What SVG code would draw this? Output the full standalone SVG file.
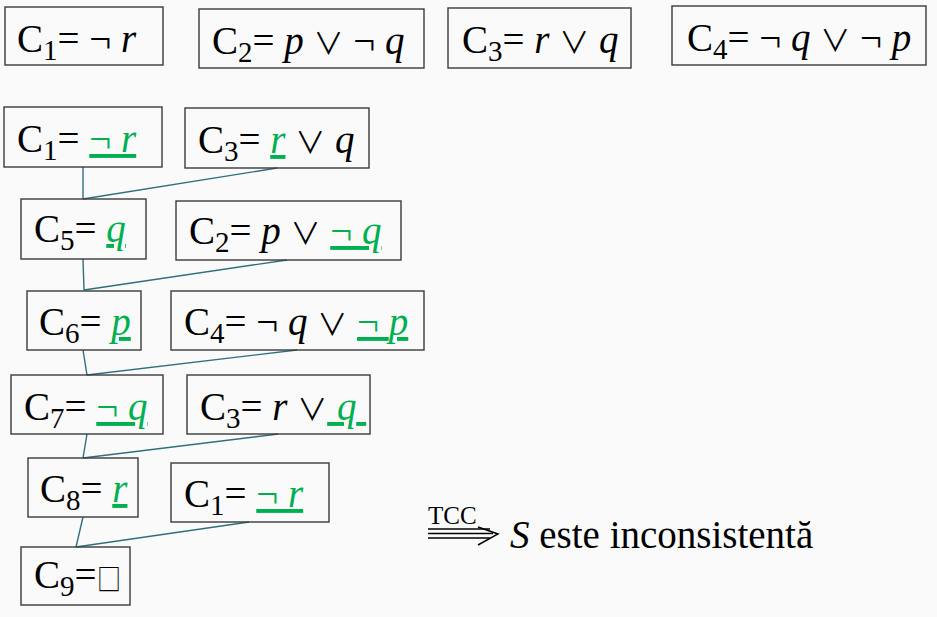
<svg xmlns="http://www.w3.org/2000/svg" width="937" height="617" viewBox="0 0 937 617">
<style>
.bg{fill:#fafafa}
.box{fill:none;stroke:#3a3a3a;stroke-width:1.4}
.t{font-family:"Liberation Serif","Times New Roman",serif;font-size:39px;fill:#000}
.sub{font-size:29px}
.i{font-style:italic}
.o{font-family:"Noto Sans CJK JP",sans-serif;font-size:30px;font-style:normal}
.g{fill:#00b050;text-decoration:underline}
.con line{stroke:#2f6f7e;stroke-width:1.4}
.arr{stroke:#000;stroke-width:1.5;fill:none}
</style>
<rect class="bg" x="0" y="0" width="937" height="617"/>

<g id="top-c1">
<rect class="box" x="5" y="7" width="158" height="58"/>
<text class="t" x="17" y="52">C<tspan class="sub" dy="8">1</tspan><tspan dy="-8">= ¬ </tspan><tspan class="i">r</tspan></text>
</g>
<g id="top-c2">
<rect class="box" x="199" y="9" width="225" height="59"/>
<text class="t" x="212" y="54">C<tspan class="sub" dy="8">2</tspan><tspan dy="-8">= </tspan><tspan class="i">p</tspan> <tspan class="o">∨</tspan> ¬ <tspan class="i">q</tspan></text>
</g>
<g id="top-c3">
<rect class="box" x="448" y="8" width="183" height="60"/>
<text class="t" x="462" y="53">C<tspan class="sub" dy="8">3</tspan><tspan dy="-8">= </tspan><tspan class="i">r</tspan> <tspan class="o">∨</tspan> <tspan class="i">q</tspan></text>
</g>
<g id="top-c4">
<rect class="box" x="672" y="6" width="254" height="59"/>
<text class="t" x="687" y="51">C<tspan class="sub" dy="8">4</tspan><tspan dy="-8">= ¬ </tspan><tspan class="i">q</tspan> <tspan class="o">∨</tspan> ¬ <tspan class="i">p</tspan></text>
</g>

<g id="connectors" class="con">
<line x1="83" y1="167" x2="83" y2="199"/>
<line x1="277" y1="168" x2="83" y2="199"/>
<line x1="83" y1="259" x2="84" y2="290"/>
<line x1="287" y1="260" x2="84" y2="290"/>
<line x1="83" y1="350" x2="87" y2="375"/>
<line x1="297" y1="350" x2="87" y2="375"/>
<line x1="87" y1="434" x2="83" y2="458"/>
<line x1="278" y1="434" x2="83" y2="458"/>
<line x1="83" y1="517" x2="76" y2="547"/>
<line x1="249" y1="522" x2="76" y2="547"/>
</g>

<g id="s-c1">
<rect class="box" x="4" y="107" width="158" height="60"/>
<text class="t" x="17" y="152">C<tspan class="sub" dy="8">1</tspan><tspan dy="-8">= </tspan><tspan class="g">¬ <tspan class="i">r</tspan></tspan></text>
</g>
<g id="s-c3a">
<rect class="box" x="185" y="108" width="184" height="60"/>
<text class="t" x="198" y="153">C<tspan class="sub" dy="8">3</tspan><tspan dy="-8">= </tspan><tspan class="g i">r</tspan> <tspan class="o">∨</tspan> <tspan class="i">q</tspan></text>
</g>
<g id="c5">
<rect class="box" x="21" y="199" width="125" height="60"/>
<text class="t" x="34" y="242">C<tspan class="sub" dy="8">5</tspan><tspan dy="-8">= </tspan><tspan class="g i">q</tspan></text>
</g>
<g id="s-c2">
<rect class="box" x="176" y="201" width="225" height="59"/>
<text class="t" x="189" y="244">C<tspan class="sub" dy="8">2</tspan><tspan dy="-8">= </tspan><tspan class="i">p</tspan> <tspan class="o">∨</tspan> <tspan class="g">¬ <tspan class="i">q</tspan></tspan></text>
</g>
<g id="c6">
<rect class="box" x="27" y="291" width="114" height="59"/>
<text class="t" x="39" y="335">C<tspan class="sub" dy="8">6</tspan><tspan dy="-8">= </tspan><tspan class="g i">p</tspan></text>
</g>
<g id="s-c4">
<rect class="box" x="171" y="291" width="253" height="59"/>
<text class="t" x="184" y="335">C<tspan class="sub" dy="8">4</tspan><tspan dy="-8">= ¬ </tspan><tspan class="i">q</tspan> <tspan class="o">∨</tspan> <tspan class="g">¬ <tspan class="i">p</tspan></tspan></text>
</g>
<g id="c7">
<rect class="box" x="11" y="375" width="152" height="59"/>
<text class="t" x="24" y="420">C<tspan class="sub" dy="8">7</tspan><tspan dy="-8">= </tspan><tspan class="g">¬ <tspan class="i">q</tspan></tspan></text>
</g>
<g id="s-c3b">
<rect class="box" x="187" y="375" width="183" height="59"/>
<text class="t" x="200" y="420">C<tspan class="sub" dy="8">3</tspan><tspan dy="-8">= </tspan><tspan class="i">r</tspan> <tspan class="o">∨</tspan><tspan class="g" xml:space="preserve"> <tspan class="i">q</tspan> </tspan></text>
</g>
<g id="c8">
<rect class="box" x="28" y="458" width="110" height="59"/>
<text class="t" x="40" y="502">C<tspan class="sub" dy="8">8</tspan><tspan dy="-8">= </tspan><tspan class="g i">r</tspan></text>
</g>
<g id="c9">
<rect class="box" x="21" y="547" width="109" height="58"/>
<text class="t" x="34" y="588">C<tspan class="sub" dy="8">9</tspan><tspan dy="-8">=</tspan></text>
<text class="o" transform="translate(97,590) scale(0.8,1)" style="font-size:30px">□</text>
</g>
<g id="s-c1b">
<rect class="box" x="171" y="463" width="158" height="59"/>
<text class="t" x="184" y="507">C<tspan class="sub" dy="8">1</tspan><tspan dy="-8">= </tspan><tspan class="g">¬ <tspan class="i">r</tspan></tspan></text>
</g>

<g id="conclusion">
<text class="t" x="428" y="524" style="font-size:25px">TCC</text>
<line class="arr" x1="428" y1="529" x2="490" y2="529"/>
<line class="arr" x1="428" y1="533.5" x2="493" y2="533.5"/>
<line class="arr" x1="428" y1="538" x2="490" y2="538"/>
<polyline class="arr" points="478,527 498,534 478,545"/>
<text class="t" x="510" y="548"><tspan class="i">S</tspan> este inconsistentă</text>
</g>
</svg>
